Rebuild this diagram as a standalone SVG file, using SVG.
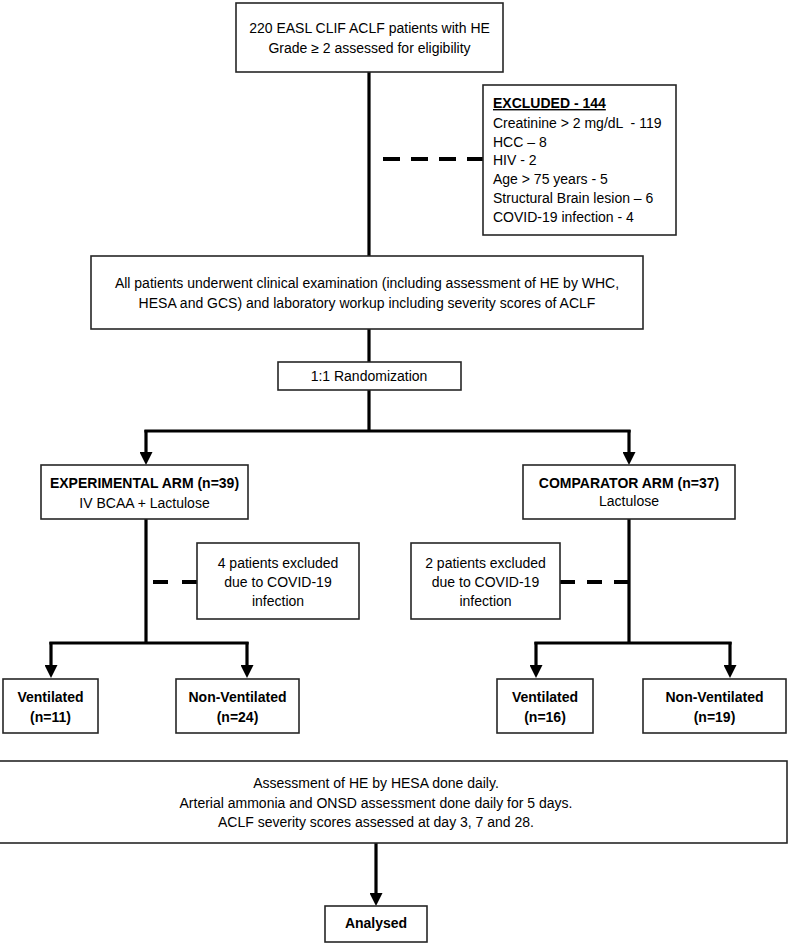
<svg xmlns="http://www.w3.org/2000/svg" width="789" height="944" viewBox="0 0 789 944">
<style>
.box{fill:#fff;stroke:#262626;stroke-width:1.6}
.t{font-family:"Liberation Sans",Arial,sans-serif;font-size:14px;fill:#000;white-space:pre}
.c{text-anchor:middle}
.b{font-weight:bold}
.ln{stroke:#000;stroke-width:3.2;fill:none}
.dash{stroke:#000;stroke-width:4;fill:none}
</style>
<defs>
<marker id="arr" markerUnits="userSpaceOnUse" markerWidth="13" markerHeight="13" refX="0" refY="6.5" orient="auto">
<path d="M0,0 L13,6.5 L0,13 z" fill="#000"/>
</marker>
</defs>
<rect width="789" height="944" fill="#fff"/>
<g id="connectors">
<line class="ln" x1="369" y1="72" x2="369" y2="256"/>
<line class="ln" x1="369" y1="329" x2="369" y2="362"/>
<line class="ln" x1="369" y1="390" x2="369" y2="431"/>
<line class="ln" x1="144.4" y1="431" x2="630.6" y2="431"/>
<line class="ln" x1="146" y1="430" x2="146" y2="452" marker-end="url(#arr)"/>
<line class="ln" x1="629" y1="430" x2="629" y2="452" marker-end="url(#arr)"/>
<line class="dash" x1="383" y1="159" x2="483" y2="159" stroke-dasharray="17 11"/>
<line class="ln" x1="146" y1="519" x2="146" y2="643"/>
<line class="dash" x1="197" y1="582" x2="148" y2="582" stroke-dasharray="15 14"/>
<line class="ln" x1="49.4" y1="643" x2="248.6" y2="643"/>
<line class="ln" x1="51" y1="642" x2="51" y2="665" marker-end="url(#arr)"/>
<line class="ln" x1="247" y1="642" x2="247" y2="665" marker-end="url(#arr)"/>
<line class="ln" x1="629" y1="519" x2="629" y2="643"/>
<line class="dash" x1="629" y1="582" x2="560" y2="582" stroke-dasharray="15 12"/>
<line class="ln" x1="534.4" y1="643" x2="731.6" y2="643"/>
<line class="ln" x1="536" y1="642" x2="536" y2="665" marker-end="url(#arr)"/>
<line class="ln" x1="730" y1="642" x2="730" y2="665" marker-end="url(#arr)"/>
<line class="ln" x1="376" y1="843" x2="376" y2="893" marker-end="url(#arr)"/>
</g>
<g id="n-start">
<rect class="box" x="236" y="3" width="267" height="69"/>
<text class="t c" x="369.5" y="33">220 EASL CLIF ACLF patients with HE</text>
<text class="t c" x="369.5" y="53">Grade ≥ 2 assessed for eligibility</text>
</g>
<g id="n-excluded">
<rect class="box" x="483" y="85" width="193" height="150"/>
<text class="t b" x="493" y="108" text-decoration="underline">EXCLUDED - 144</text>
<text class="t" x="493" y="128">Creatinine &gt; 2 mg/dL  - 119</text>
<text class="t" x="493" y="147">HCC – 8</text>
<text class="t" x="493" y="165">HIV - 2</text>
<text class="t" x="493" y="184">Age &gt; 75 years - 5</text>
<text class="t" x="493" y="203">Structural Brain lesion – 6</text>
<text class="t" x="493" y="222">COVID-19 infection - 4</text>
</g>
<g id="n-exam">
<rect class="box" x="91" y="256" width="552" height="73"/>
<text class="t c" x="367" y="288">All patients underwent clinical examination (including assessment of HE by WHC,</text>
<text class="t c" x="367" y="308">HESA and GCS) and laboratory workup including severity scores of ACLF</text>
</g>
<g id="n-random">
<rect class="box" x="278" y="362" width="183" height="28"/>
<text class="t c" x="369" y="381">1:1 Randomization</text>
</g>
<g id="n-exp">
<rect class="box" x="41" y="465" width="207" height="54"/>
<text class="t c b" x="144.5" y="488">EXPERIMENTAL ARM (n=39)</text>
<text class="t c" x="144.5" y="508">IV BCAA + Lactulose</text>
</g>
<g id="n-comp">
<rect class="box" x="523" y="465" width="212" height="54"/>
<text class="t c b" x="629" y="488">COMPARATOR ARM (n=37)</text>
<text class="t c" x="629" y="506">Lactulose</text>
</g>
<g id="n-excl1">
<rect class="box" x="197" y="543" width="162" height="76"/>
<text class="t c" x="278" y="568">4 patients excluded</text>
<text class="t c" x="278" y="587">due to COVID-19</text>
<text class="t c" x="278" y="606">infection</text>
</g>
<g id="n-excl2">
<rect class="box" x="411" y="543" width="149" height="76"/>
<text class="t c" x="485.5" y="568">2 patients excluded</text>
<text class="t c" x="485.5" y="587">due to COVID-19</text>
<text class="t c" x="485.5" y="606">infection</text>
</g>
<g id="n-vent1">
<rect class="box" x="3" y="679" width="95" height="54"/>
<text class="t c b" x="50.5" y="702">Ventilated</text>
<text class="t c b" x="50.5" y="722">(n=11)</text>
</g>
<g id="n-nonvent1">
<rect class="box" x="176" y="679" width="123" height="54"/>
<text class="t c b" x="237.5" y="702">Non-Ventilated</text>
<text class="t c b" x="237.5" y="722">(n=24)</text>
</g>
<g id="n-vent2">
<rect class="box" x="497" y="679" width="96" height="54"/>
<text class="t c b" x="545" y="702">Ventilated</text>
<text class="t c b" x="545" y="722">(n=16)</text>
</g>
<g id="n-nonvent2">
<rect class="box" x="643" y="679" width="143" height="54"/>
<text class="t c b" x="714.5" y="702">Non-Ventilated</text>
<text class="t c b" x="714.5" y="722">(n=19)</text>
</g>
<g id="n-assess">
<rect class="box" x="-35" y="761" width="822" height="82"/>
<text class="t c" x="376" y="788">Assessment of HE by HESA done daily.</text>
<text class="t c" x="376" y="808">Arterial ammonia and ONSD assessment done daily for 5 days.</text>
<text class="t c" x="376" y="827">ACLF severity scores assessed at day 3, 7 and 28.</text>
</g>
<g id="n-analysed">
<rect class="box" x="325" y="906" width="102" height="36"/>
<text class="t c b" x="376" y="928">Analysed</text>
</g>
</svg>
